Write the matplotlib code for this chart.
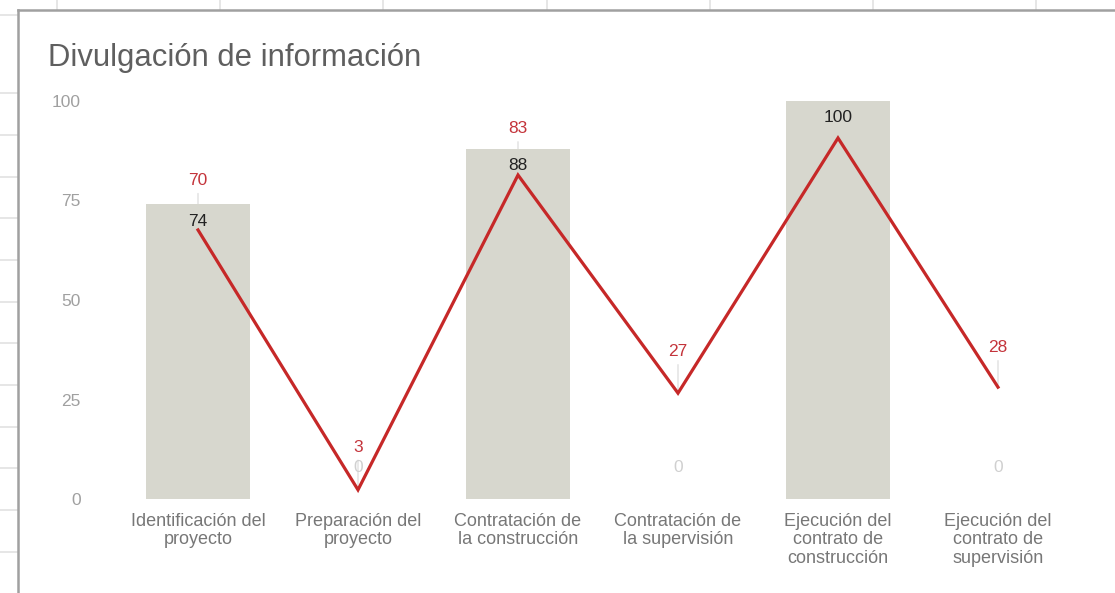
import matplotlib
matplotlib.use("Agg")
import matplotlib.pyplot as plt
from matplotlib.lines import Line2D
import matplotlib.transforms as mtransforms

# ---- data ----
categories = [
    "Identificación del\nproyecto",
    "Preparación del\nproyecto",
    "Contratación de\nla construcción",
    "Contratación de\nla supervisión",
    "Ejecución del\ncontrato de\nconstrucción",
    "Ejecución del\ncontrato de\nsupervisión",
]
bar_values = [74, 0, 88, 0, 100, 0]
# red line: vertex heights as read against the left axis
line_values = [67.6, 2.3, 81.4, 26.6, 90.7, 28.1]
# numbers written in the red data labels (the one at index 4 is not shown)
line_labels = [70, 3, 83, 27, 100, 28]
line_label_shown = [True, True, True, True, False, True]
y_ticks = [0, 25, 50, 75, 100]
title = "Divulgación de información"

W, H, DPI = 1115, 593, 100
plt.rcParams['font.family'] = ['Liberation Sans', 'DejaVu Sans']

fig = plt.figure(figsize=(W / DPI, H / DPI), dpi=DPI)
fig.patch.set_facecolor('white')

def fx(px):
    return px / W

def fy(py):
    return 1 - py / H

# spreadsheet background grid
grid_c = '#e2e2e2'
for x in [57, 220, 383, 547, 710, 873, 1036]:
    fig.add_artist(Line2D([fx(x), fx(x)], [fy(0), fy(10)], color=grid_c, lw=1.2, zorder=0))
for y in [15, 93, 135, 177, 218, 260, 302, 343, 385, 427, 468, 510, 552]:
    fig.add_artist(Line2D([fx(0), fx(18)], [fy(y), fy(y)], color=grid_c, lw=1.2, zorder=0))
# chart box border
fig.add_artist(Line2D([fx(18), 1], [fy(10), fy(10)], color='#a0a0a0', lw=1.8, zorder=0))
fig.add_artist(Line2D([fx(18), fx(18)], [0, fy(10)], color='#a0a0a0', lw=1.8, zorder=0))

# axes
left, right, top, bottom = 118, 1078, 101, 499
ax = fig.add_axes([fx(left), fy(bottom), fx(right) - fx(left), fy(top) - fy(bottom)])
ax.set_zorder(3)
ax.set_facecolor('none')
ax.set_xlim(-0.5, len(categories) - 0.5)
ax.set_ylim(0, 100)
for s in ax.spines.values():
    s.set_visible(False)
ax.tick_params(axis='both', length=0)
ax.set_yticks(y_ticks)
ax.set_yticklabels([str(t) for t in y_ticks], color='#a0a0a0', fontsize=12.5)
ax.tick_params(axis='y', pad=27)
xs = list(range(len(categories)))
ax.set_xticks(xs)
ax.set_xticklabels(categories, color='#777777', fontsize=13, linespacing=1.12)
ax.tick_params(axis='x', pad=10)

bar_color = '#d7d7ce'
ax.bar(xs, bar_values, width=0.65, color=bar_color, zorder=2)

# bar labels
for i, v in enumerate(bar_values):
    if v > 0:
        ax.annotate(str(v), xy=(i, v), xytext=(0, -17), textcoords='offset pixels',
                    ha='center', va='center', fontsize=12.5, color='#222222', zorder=4)
    else:
        ax.annotate(str(v), xy=(i, v), xytext=(0, 31), textcoords='offset pixels',
                    ha='center', va='center', fontsize=12.5, color='#d0d0d0', zorder=4)

# line
red = '#c62828'
ax.plot(xs, line_values, color=red, lw=2.3, solid_joinstyle='miter', zorder=5)

# line labels with leader lines
off = mtransforms.ScaledTranslation(0, 40 / DPI, fig.dpi_scale_trans)
for i, (v, lab) in enumerate(zip(line_values, line_labels)):
    if not line_label_shown[i]:
        continue
    ax.annotate(str(lab), xy=(i, v), xycoords='data',
                xytext=(i, lab), textcoords=ax.transData + off,
                ha='center', va='center', fontsize=12.5, color='#c4343b',
                arrowprops=dict(arrowstyle='-', color='#d8d8d8', lw=0.8,
                                shrinkA=2, shrinkB=2),
                zorder=1)

fig.text(fx(48), fy(58), title, fontsize=22.3, color='#5f5f5f', ha='left', va='center')

fig.savefig('out.png', dpi=DPI)
